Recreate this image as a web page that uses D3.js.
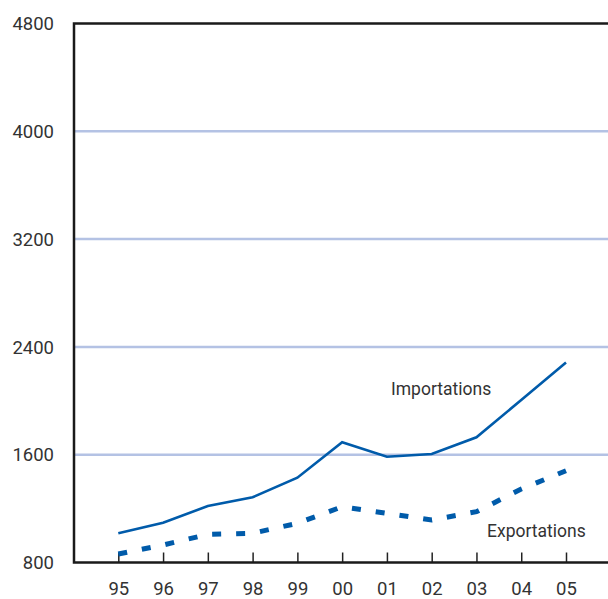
<!DOCTYPE html>
<html>
<head>
<meta charset="utf-8">
<script src="https://cdn.jsdelivr.net/npm/d3@7"></script>
<style>
  body { margin: 0; background: #fff; }
  text { font-family: Roboto, "Noto Sans", sans-serif; fill: #333; }
</style>
</head>
<body>
<div id="chart"></div>
<script>
const years = ["95", "96", "97", "98", "99", "00", "01", "02", "03", "04", "05"];
const importations = [1017, 1095, 1219, 1284, 1429, 1692, 1585, 1605, 1729, 2006, 2285];
const exportations = [863, 930, 1009, 1017, 1091, 1214, 1165, 1115, 1177, 1345, 1481];
const yTicks = [800, 1600, 2400, 3200, 4000, 4800];

const width = 608, height = 599;
const plotLeft = 74, plotRight = 608, plotTop = 23.5, plotBottom = 562.5;

const svg = d3.select("#chart").append("svg").attr("width", width).attr("height", height);

const x = d3.scalePoint().domain(years).range([118.3, 566]);
const y = d3.scaleLinear().domain([800, 4800]).range([plotBottom, plotTop]);

// gridlines
svg.append("g")
  .selectAll("line")
  .data(yTicks.filter(d => d > 800 && d < 4800))
  .enter()
  .append("line")
  .attr("x1", plotLeft)
  .attr("x2", plotRight)
  .attr("y1", d => y(d))
  .attr("y2", d => y(d))
  .attr("stroke", "#b4c2e4")
  .attr("stroke-width", 2.5);

// y labels
svg.append("g")
  .selectAll("text")
  .data(yTicks)
  .enter()
  .append("text")
  .attr("x", 54)
  .attr("y", d => y(d))
  .attr("dy", "0.36em")
  .attr("text-anchor", "end")
  .style("font-size", "18.5px")
  .text(d => d);

// x axis with ticks pointing up
const xAxis = svg.append("g")
  .attr("transform", "translate(0," + plotBottom + ")")
  .call(d3.axisBottom(x).tickSizeInner(-10).tickSizeOuter(0).tickPadding(19));
xAxis.select(".domain").remove();
xAxis.selectAll(".tick line").attr("stroke", "#222").attr("stroke-width", 1.5);
xAxis.selectAll(".tick text")
  .style("font-size", "18.5px")
  .style("font-family", "Roboto, 'Noto Sans', sans-serif")
  .attr("fill", "#333");

// frame
svg.append("path")
  .attr("d", "M" + plotRight + "," + plotTop + "H" + plotLeft + "V" + plotBottom + "H" + plotRight)
  .attr("fill", "none")
  .attr("stroke", "#1a1a1a")
  .attr("stroke-width", 2.5);

const line = d3.line()
  .x((d, i) => x(years[i]))
  .y(d => y(d));

svg.append("path")
  .datum(importations)
  .attr("d", line)
  .attr("fill", "none")
  .attr("stroke", "#005baa")
  .attr("stroke-width", 2.6);

svg.append("path")
  .datum(exportations)
  .attr("d", line)
  .attr("fill", "none")
  .attr("stroke", "#005baa")
  .attr("stroke-width", 5)
  .attr("stroke-dasharray", "9,15");

svg.append("text")
  .attr("x", 391)
  .attr("y", 395)
  .style("font-size", "17.5px")
  .text("Importations");

svg.append("text")
  .attr("x", 487)
  .attr("y", 537)
  .style("font-size", "17.5px")
  .text("Exportations");
</script>
</body>
</html>
